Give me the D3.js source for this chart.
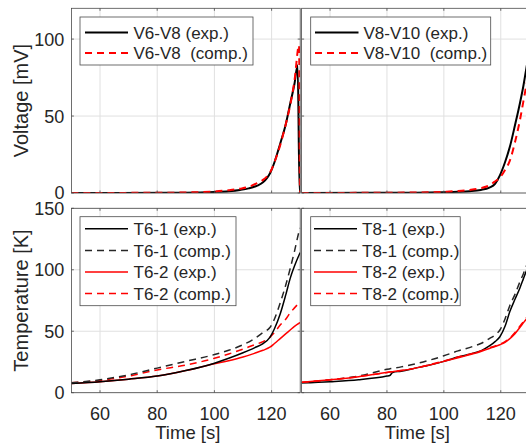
<!DOCTYPE html>
<html><head><meta charset="utf-8">
<script src="https://cdn.jsdelivr.net/npm/d3@7"></script>
<style>
html,body{margin:0;padding:0;background:#fff;}
svg{display:block;font-family:"Liberation Sans",Arial,sans-serif;}
</style></head>
<body><svg id="chart" width="526" height="448"></svg>
<script>
// ---------- DATA ----------
const xTicks = [60, 80, 100, 120];
const vTicks = [0, 50, 100];
const tTicks = [0, 50, 100, 150];

// Voltage, left panel
const v68ExpT  = [50, 85, 95, 100, 105, 109, 112, 115, 117, 118.5, 119.5, 121, 123, 125, 126.5, 128, 129.1, 129.8, 130];
const v68ExpV  = [0, 0.1, 0.4, 0.7, 1.2, 2, 3, 4.8, 7, 10, 13, 20, 32, 45, 58, 71, 83, 0, 0];
const v68CompT = [50, 85, 95, 100, 105, 109, 112, 115, 117, 118.5, 119.5, 121, 123, 125, 126.5, 128, 129.6, 129.95, 130];
const v68CompV = [0, 0.2, 0.6, 1.0, 1.8, 2.8, 4, 6.5, 8.5, 11, 13.5, 20, 31, 45, 57, 73, 96, 0, 0];
// Voltage, right panel
const v810ExpT  = [50, 90, 100, 105, 109, 113, 116, 118, 119.7, 121.5, 123.2, 125, 126.7, 128, 129, 130];
const v810ExpV  = [0, 0.2, 0.5, 0.8, 1.2, 2, 3.5, 6, 11.5, 20, 30, 44, 58, 70, 81, 92];
const v810CompT = [50, 90, 100, 105, 109, 113, 116, 118, 119.7, 121.5, 123.2, 125, 126.7, 128, 129, 130];
const v810CompV = [0, 0.3, 0.8, 1.3, 2, 3.2, 5, 7.5, 10, 15, 21, 33, 47, 60, 70, 80];

// Temperature, left panel
const t6T = [50, 60, 70, 80, 90, 100, 105, 110, 114, 117, 119.4, 121, 123, 125, 126.5, 128, 129.6, 130];
const t61Exp  = [7.5, 9, 11, 13.5, 18, 24, 28, 32.5, 36.5, 40, 45, 52, 64, 80, 93, 103, 112, 114];
const t61Comp = [8, 10.5, 14.5, 20, 25.5, 31, 34.5, 39, 44, 49, 53, 60, 73, 88, 101, 115, 131, 134];
const t62Exp  = [7.5, 9, 11, 13.5, 18, 23.5, 26, 29, 32, 34.5, 37, 40, 44, 48, 51, 54, 56.5, 57];
const t62Comp = [8, 10, 13.5, 18.5, 22.5, 28, 31.5, 35.5, 39, 41.5, 45, 49, 55, 60, 65, 69, 73, 74];

// Temperature, right panel
const t8T = [50, 60, 70, 80, 81, 82, 85, 90, 95, 100, 105, 110, 113, 116, 118, 119.7, 121.5, 123.2, 125, 126.7, 128, 129, 130];
const t81Exp  = [8, 9, 10.5, 13.5, 14, 16.5, 17.5, 20, 22.5, 25.5, 29, 32, 34, 38, 41.5, 45.5, 54, 66, 76, 85, 93, 99, 104];
const t81Comp = [8, 10.5, 13.5, 19, 19.4, 19.8, 21, 23.5, 26.5, 30, 34, 37.5, 40, 44, 47, 51, 60, 71, 80, 90, 97, 103, 108];
const t82Exp  = [8.5, 10.5, 13, 16.5, 16.8, 17.1, 18, 20, 22.5, 25.5, 28.5, 31.5, 33.5, 36, 37.5, 39, 41, 44, 48, 53, 57, 60, 63];
const t82Comp = [8.5, 10.5, 13, 16.5, 16.8, 17.1, 18, 20, 22.8, 25.8, 29, 32, 34, 36.5, 38, 39.5, 41.5, 44.5, 49, 54, 58, 61, 63.5];

const legendTop1 = ["V6-V8 (exp.)", "V6-V8  (comp.)"];
const legendTop2 = ["V8-V10 (exp.)", "V8-V10  (comp.)"];
const legendBot1 = ["T6-1 (exp.)", "T6-1 (comp.)", "T6-2 (exp.)", "T6-2 (comp.)"];
const legendBot2 = ["T8-1 (exp.)", "T8-1 (comp.)", "T8-2 (exp.)", "T8-2 (comp.)"];

// ---------- LAYOUT ----------
const svg = d3.select("#chart");
const AX = "#262626", BOX = "#4a4a4a", GRID = "#e0e0e0", RED = "#ff0000";
const cols = [{x0: 71.4, x1: 300.2}, {x0: 301.6, x1: 529.2}];
const rows = [{y0: 8.3, y1: 193, dom: [0, 120], ticks: vTicks},
              {y0: 208.3, y1: 392.7, dom: [0, 150], ticks: tTicks}];

const zip = (a, b) => a.map((d, i) => [d, b[i]]);

const panels = [];
rows.forEach((r, ri) => cols.forEach((c, ci) => {
  const x = d3.scaleLinear().domain([50, 130]).range([c.x0, c.x1]);
  const y = d3.scaleLinear().domain(r.dom).range([r.y1, r.y0]);
  const id = "clip" + ri + ci;
  svg.append("clipPath").attr("id", id).append("rect")
    .attr("x", c.x0).attr("y", r.y0).attr("width", c.x1 - c.x0).attr("height", r.y1 - r.y0);
  const g = svg.append("g");
  g.append("rect").attr("x", c.x0).attr("y", r.y0).attr("width", c.x1 - c.x0).attr("height", r.y1 - r.y0).attr("fill", "#fff");
  g.selectAll(".gx").data(xTicks).join("line")
    .attr("x1", d => x(d)).attr("x2", d => x(d)).attr("y1", r.y0).attr("y2", r.y1)
    .attr("stroke", GRID).attr("stroke-width", 1);
  g.selectAll(".gy").data(r.ticks).join("line")
    .attr("x1", c.x0).attr("x2", c.x1).attr("y1", d => y(d)).attr("y2", d => y(d))
    .attr("stroke", GRID).attr("stroke-width", 1);
  const plot = g.append("g").attr("clip-path", `url(#${id})`);
  panels.push({x, y, g, plot, c, r, ri, ci});
}));

function drawLine(p, ts, vs, color, dashed, w) {
  const line = d3.line().x(d => p.x(d[0])).y(d => p.y(d[1])).curve(d3.curveMonotoneX);
  p.plot.append("path").datum(zip(ts, vs)).attr("d", line)
    .attr("fill", "none").attr("stroke", color).attr("stroke-width", w)
    .attr("stroke-dasharray", dashed ? "7,5" : null).attr("stroke-linejoin", "round");
}

drawLine(panels[0], v68ExpT, v68ExpV, "#000", false, 2);
drawLine(panels[0], v68CompT, v68CompV, RED, true, 2);
drawLine(panels[1], v810ExpT, v810ExpV, "#000", false, 2);
drawLine(panels[1], v810CompT, v810CompV, RED, true, 2);
drawLine(panels[2], t6T, t62Exp, RED, false, 1.5);
drawLine(panels[2], t6T, t62Comp, RED, true, 1.5);
drawLine(panels[2], t6T, t61Exp, "#000", false, 1.5);
drawLine(panels[2], t6T, t61Comp, "#262626", true, 1.5);
drawLine(panels[3], t8T, t81Exp, "#000", false, 1.5);
drawLine(panels[3], t8T, t81Comp, "#262626", true, 1.5);
drawLine(panels[3], t8T, t82Comp, RED, true, 1.5);
drawLine(panels[3], t8T, t82Exp, RED, false, 1.5);

panels.forEach(p => {
  const {x, y, g, c, r} = p;
  const tl = 2.5;
  g.selectAll(".tx").data(xTicks).join("path")
    .attr("d", d => `M${x(d)},${r.y1}v${-tl}M${x(d)},${r.y0}v${tl}`)
    .attr("stroke", BOX).attr("stroke-width", 0.8);
  g.selectAll(".ty").data(r.ticks).join("path")
    .attr("d", d => `M${c.x0},${y(d)}h${tl}M${c.x1},${y(d)}h${-tl}`)
    .attr("stroke", BOX).attr("stroke-width", 0.8);
  g.append("rect").attr("x", c.x0).attr("y", r.y0).attr("width", c.x1 - c.x0).attr("height", r.y1 - r.y0)
    .attr("fill", "none").attr("stroke", BOX).attr("stroke-width", 0.8);
  if (p.ci === 0) {
    g.selectAll(".yl").data(r.ticks).join("text")
      .attr("x", c.x0 - 7).attr("y", d => y(d)).attr("dy", "0.36em")
      .attr("text-anchor", "end").attr("font-size", 18).attr("fill", AX).text(d => d);
  }
  if (p.ri === 1) {
    g.selectAll(".xl").data(xTicks).join("text")
      .attr("x", d => x(d)).attr("y", 419.5)
      .attr("text-anchor", "middle").attr("font-size", 18).attr("fill", AX).text(d => d);
    g.append("text").attr("x", (c.x0 + c.x1) / 2 + 2).attr("y", 438.5)
      .attr("text-anchor", "middle").attr("font-size", 18.5).attr("fill", AX).text("Time [s]");
  }
});

svg.append("text").attr("transform", `translate(28,${(rows[0].y0 + rows[0].y1) / 2}) rotate(-90)`)
  .attr("text-anchor", "middle").attr("font-size", 20).attr("fill", AX).text("Voltage [mV]");
svg.append("text").attr("transform", `translate(28,${(rows[1].y0 + rows[1].y1) / 2}) rotate(-90)`)
  .attr("text-anchor", "middle").attr("font-size", 20).attr("fill", AX).text("Temperature [K]");

function legend(bx, by, bw, bh, labels, styles, y0, step, lx0, lx1, tx) {
  const g = svg.append("g");
  g.append("rect").attr("x", bx).attr("y", by).attr("width", bw).attr("height", bh)
    .attr("fill", "#fff").attr("stroke", BOX).attr("stroke-width", 0.8);
  labels.forEach((lab, i) => {
    const yy = y0 + i * step;
    const s = styles[i];
    g.append("line").attr("x1", lx0).attr("x2", lx1).attr("y1", yy).attr("y2", yy)
      .attr("stroke", s[0]).attr("stroke-width", s[2]).attr("stroke-dasharray", s[1] ? "7,5" : null);
    g.append("text").attr("x", tx).attr("y", yy).attr("dy", "0.36em")
      .attr("font-size", 17).attr("fill", AX).text(lab).style("white-space", "pre");
  });
}
const sV = [["#000", false, 2], [RED, true, 2]];
const sT = [["#000", false, 1.5], ["#262626", true, 1.5], [RED, false, 1.5], [RED, true, 1.5]];
legend(80, 17, 173, 48, legendTop1, sV, 32.5, 20.5, 85, 128, 133.5);
legend(310.7, 17, 180, 48, legendTop2, sV, 32.5, 20.5, 315, 358.5, 363.5);
legend(80, 216.7, 156, 89, legendBot1, sT, 228.8, 21.6, 85, 128, 133.5);
legend(310.7, 216.7, 149.5, 89, legendBot2, sT, 228.8, 21.6, 314, 357, 362);
</script></body></html>
